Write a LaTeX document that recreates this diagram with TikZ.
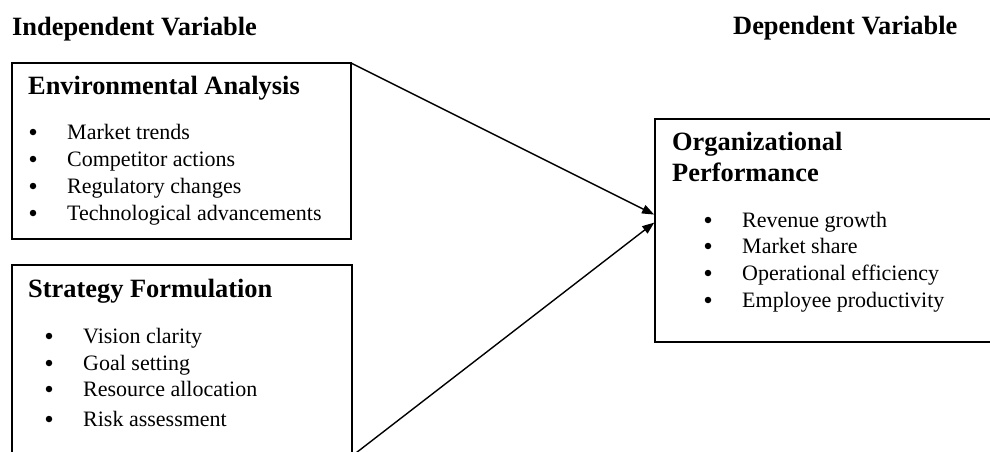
\documentclass[tikz,border=0pt]{standalone}
\usepackage{fontspec}
\setmainfont{Liberation Serif}
\usetikzlibrary{arrows.meta}
\tikzset{
  box/.style={draw=black, line width=1.4pt},
  hd/.style={anchor=base west, inner sep=0pt, font=\fontsize{26.4}{31}\selectfont\bfseries},
  bh/.style={anchor=base west, inner sep=0pt, font=\fontsize{26.4}{31}\selectfont\bfseries},
  item/.style={anchor=base west, inner sep=0pt, font=\fontsize{22}{26}\selectfont},
  bul/.style={circle, fill=black, inner sep=0pt, minimum size=6.5pt},
  conn/.style={line width=1.4pt, -{Triangle[length=12pt,width=9pt]}, shorten >=1pt}
}
\begin{document}
\begin{tikzpicture}[x=1pt,y=-1pt]
\useasboundingbox (0,0) rectangle (990,452);
\clip (0,0) rectangle (990,452);
\fill[white] (0,0) rectangle (990,452);
% headers
\node[hd] (ivar) at (12,36) {Independent Variable};
\node[hd] (dvar) at (733,35) {Dependent Variable};
% box 1
\draw[box] (12,63) rectangle (351,239);
\coordinate (b1ne) at (351,63);
\node[bh] (h1) at (28,94) {Environmental Analysis};
\node[bul] (b11) at (33,132) {};
\node[item] (t11) at (67,139) {Market trends};
\node[bul] (b12) at (33,159) {};
\node[item] (t12) at (67,166) {Competitor actions};
\node[bul] (b13) at (33,186) {};
\node[item] (t13) at (67,193) {Regulatory changes};
\node[bul] (b14) at (33,213) {};
\node[item] (t14) at (67,220) {Technological advancements};
% box 2
\draw[box] (12,265) rectangle (352,480);
\coordinate (b2e) at (352,456);
\node[bh] (h2) at (28,297) {Strategy Formulation};
\node[bul] (b21) at (49,336) {};
\node[item] (t21) at (83,343) {Vision clarity};
\node[bul] (b22) at (49,363) {};
\node[item] (t22) at (83,370) {Goal setting};
\node[bul] (b23) at (49,389) {};
\node[item] (t23) at (83,396) {Resource allocation};
\node[bul] (b24) at (49,419) {};
\node[item] (t24) at (83,426) {Risk assessment};
% box 3
\draw[box] (655,119) rectangle (1000,342);
\coordinate (b3a) at (655,215);
\coordinate (b3b) at (655,222);
\node[bh] (h3a) at (672,150) {Organizational};
\node[bh] (h3b) at (672,181) {Performance};
\node[bul] (b31) at (708,220) {};
\node[item] (t31) at (742,227) {Revenue growth};
\node[bul] (b32) at (708,246) {};
\node[item] (t32) at (742,253) {Market share};
\node[bul] (b33) at (708,273) {};
\node[item] (t33) at (742,280) {Operational efficiency};
\node[bul] (b34) at (708,300) {};
\node[item] (t34) at (742,307) {Employee productivity};
% connectors
\draw[conn] (b1ne) -- (b3a);
\draw[conn] (b2e) -- (b3b);
\end{tikzpicture}
\end{document}
